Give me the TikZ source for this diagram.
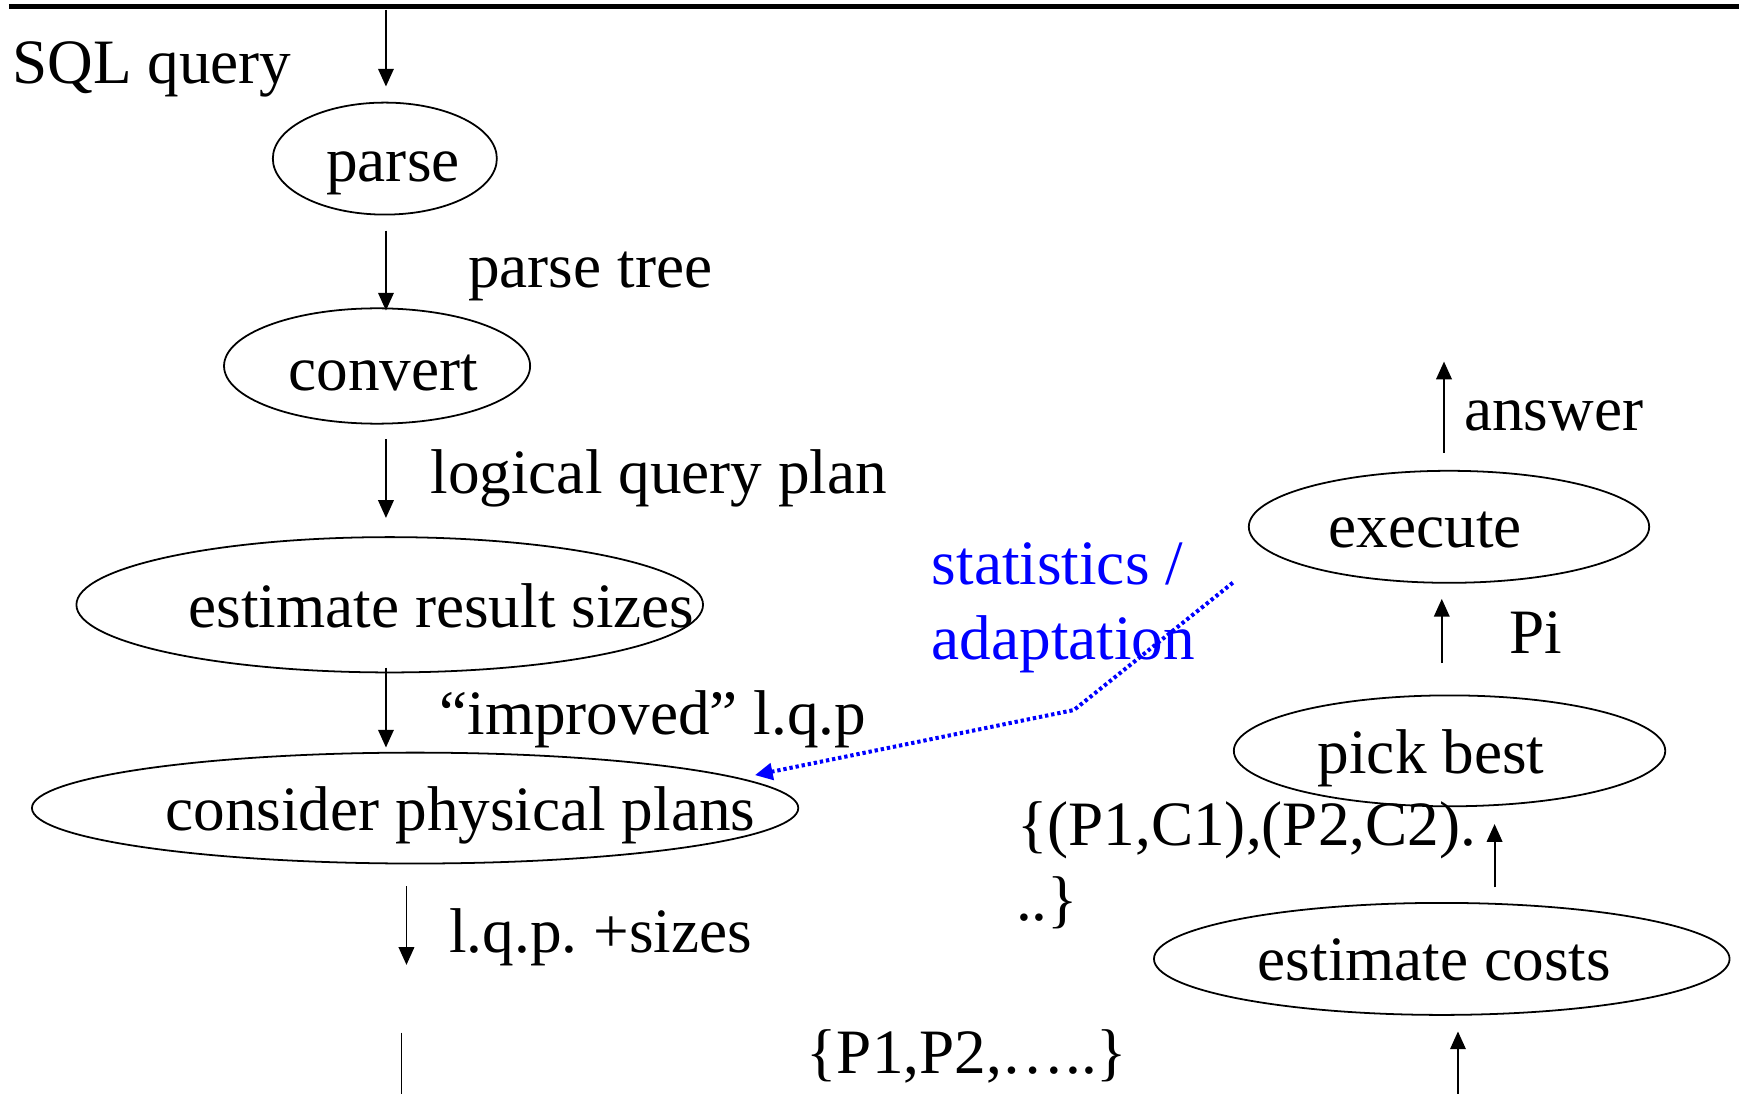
\documentclass[tikz,border=0pt]{standalone}
\usepackage{fontspec}
\setmainfont{Liberation Serif}
\usetikzlibrary{shapes.geometric,arrows.meta}
\definecolor{statblue}{RGB}{0,0,255}
\frenchspacing
\begin{document}
\begin{tikzpicture}[x=1pt,y=-1pt,
  ell/.style={draw,shape=ellipse,line width=1.6pt,inner sep=0pt},
  txt/.style={inner sep=0pt,anchor=base west,font=\fontsize{57}{68}\selectfont},
  arr/.style={line width=1.7pt,-{Triangle[length=16pt,width=14pt]}},
  plain/.style={line width=1.7pt},
  stat/.style={statblue,line width=3.6pt,dash pattern=on 3pt off 2.6pt,-{Triangle[length=16pt,width=15pt]}}]
\useasboundingbox (0,0) rectangle (1568,986);
\fill[white] (0,0) rectangle (1568,986);
% top rule
\coordinate (tl) at (8,6);
\coordinate (tr) at (1568,6);
\draw[line width=5pt] (tl) -- (tr);
% ellipses
\node[ell,minimum width=202pt,minimum height=101pt] (parse) at (347,143) {};
\node[ell,minimum width=276pt,minimum height=104pt] (convert) at (340,330) {};
\node[ell,minimum width=565pt,minimum height=122pt] (estimate) at (351.4,545.3) {};
\node[ell,minimum width=691pt,minimum height=100pt] (consider) at (374.3,728.6) {};
\node[ell,minimum width=361pt,minimum height=101pt] (execute) at (1306.5,475) {};
\node[ell,minimum width=389pt,minimum height=100pt] (pick) at (1307,677) {};
\node[ell,minimum width=519pt,minimum height=101pt] (costs) at (1300,864.6) {};
% texts
\node[txt] (tsql) at (11,75) {SQL query};
\node[txt] (tparse) at (294,164) {parse};
\node[txt] (tparsetree) at (422,259) {parse tree};
\node[txt] (tconvert) at (260,352) {convert};
\node[txt] (tlqp) at (388,445) {logical query plan};
\node[txt] (testimate) at (170,566) {estimate result sizes};
\node[txt] (timproved) at (396,662) {“improved” l.q.p};
\node[txt] (tconsider) at (149,749) {consider physical plans};
\node[txt] (tsizes) at (405,859) {l.q.p. +sizes};
\node[txt] (tplans) at (727,968) {\{P1,P2,…..\}};
\node[txt] (tcosts) at (1134,884) {estimate costs};
\node[txt] (tpc1) at (917,762) {\{(P1,C1),(P2,C2).};
\node[txt] (tpc2) at (916,830) {..\}};
\node[txt] (tpick) at (1188,697) {pick best};
\node[txt] (tpi) at (1361,589) {Pi};
\node[txt] (texecute) at (1198,494) {execute};
\node[txt] (tanswer) at (1320,388) {answer};
\node[txt,text=statblue] (tstat) at (840,527) {statistics /};
\node[txt,text=statblue] (tadapt) at (840,595) {adaptation};
% connector end points
\coordinate (a1s) at (348,9);     \coordinate (a1e) at (348,78);
\coordinate (a2s) at (348,208);   \coordinate (a2e) at (348,280);
\coordinate (a3s) at (348,396);   \coordinate (a3e) at (348,467);
\coordinate (a4s) at (348,602);   \coordinate (a4e) at (348,674);
\coordinate (a5s) at (366.5,799); \coordinate (a5e) at (366.5,870);
\coordinate (l6s) at (362,931);   \coordinate (l6e) at (362,986);
\coordinate (u1s) at (1314.6,986); \coordinate (u1e) at (1314.6,930);
\coordinate (u2s) at (1347.6,800); \coordinate (u2e) at (1347.6,743);
\coordinate (u3s) at (1300,598);  \coordinate (u3e) at (1300,540);
\coordinate (u4s) at (1302,408);  \coordinate (u4e) at (1302,326);
\coordinate (bs) at (1111.6,525.4);
\coordinate (bm) at (968.3,640.2);
\coordinate (be) at (680.7,698.9);
% connectors
\draw[arr] (a1s) -- (a1e);
\draw[arr] (a2s) -- (a2e);
\draw[arr] (a3s) -- (a3e);
\draw[arr] (a4s) -- (a4e);
\draw[arr] (a5s) -- (a5e);
\draw[plain] (l6s) -- (l6e);
\draw[arr] (u1s) -- (u1e);
\draw[arr] (u2s) -- (u2e);
\draw[arr] (u3s) -- (u3e);
\draw[arr] (u4s) -- (u4e);
\draw[stat] (bs) -- (bm) -- (be);
\end{tikzpicture}
\end{document}
